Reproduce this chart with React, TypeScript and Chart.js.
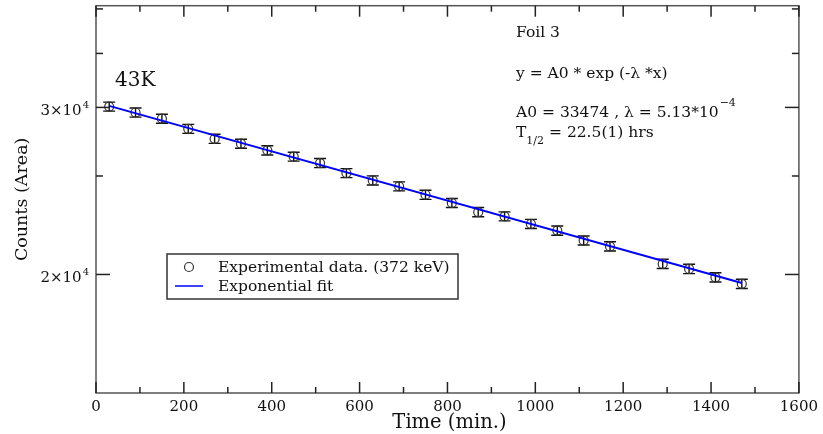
import React, { useEffect, useRef } from "react";
import { Chart, registerables } from "chart.js";

Chart.register(...registerables);

// ---- data ----
const timeMin = [30, 90, 150, 210, 270, 330, 390, 450, 510, 570, 630, 690, 750, 810, 870, 930, 990, 1050, 1110, 1170, 1290, 1350, 1410, 1470];
const counts = [30060, 29630, 29190, 28480, 27800, 27470, 27030, 26620, 26210, 25580, 25130, 24770, 24270, 23790, 23270, 23030, 22610, 22250, 21720, 21410, 20520, 20270, 19860, 19550];
const countErrors = [330, 330, 320, 310, 310, 300, 300, 290, 290, 280, 280, 270, 270, 260, 260, 250, 250, 250, 240, 240, 230, 230, 220, 220];
const fitX = [30, 1470];
const fitY = [30110, 19590];

const xMajorTicks = [0, 200, 400, 600, 800, 1000, 1200, 1400, 1600];
const xMinorTicks = [100, 300, 500, 700, 900, 1100, 1300, 1500];
const yMajorTicks = [20000, 30000];
const yMajorMantissa = ["2×10", "3×10"];
const yMajorExponent = ["4", "4"];
const yMinorTicks = [25400, 34200, 38100];

const seriesLabels = ["Experimental data. (372 keV)", "Exponential fit"];
const annotation = {
  isotope: "43K",
  foil: "Foil 3",
  formula: "y = A0 * exp (-λ *x)",
  params: "A0 = 33474 , λ = 5.13*10",
  paramsExp: "−4",
  halfLifeT: "T",
  halfLifeSub: "1/2",
  halfLifeVal: " = 22.5(1) hrs",
};
const xTitle = "Time (min.)";
const yTitle = "Counts (Area)";

const SERIF = "'DejaVu Serif', serif";

const decor = {
  id: "decor",
  beforeDatasetsDraw(chart: any) {
    const { ctx, scales } = chart;
    const x = scales.x, y = scales.y;
    ctx.save();
    ctx.strokeStyle = "#111";
    ctx.lineWidth = 1.4;
    timeMin.forEach((t, i) => {
      const px = x.getPixelForValue(t);
      const y1 = y.getPixelForValue(counts[i] + countErrors[i]);
      const y2 = y.getPixelForValue(counts[i] - countErrors[i]);
      ctx.beginPath();
      ctx.moveTo(px, y1);
      ctx.lineTo(px, y2);
      ctx.moveTo(px - 6, y1);
      ctx.lineTo(px + 6, y1);
      ctx.moveTo(px - 6, y2);
      ctx.lineTo(px + 6, y2);
      ctx.stroke();
    });
    ctx.restore();
  },
  afterDraw(chart: any) {
    const { ctx, chartArea, scales } = chart;
    const { left, right, top, bottom } = chartArea;
    const x = scales.x, y = scales.y;
    ctx.save();
    // frame
    ctx.strokeStyle = "#555";
    ctx.lineWidth = 1.5;
    ctx.strokeRect(left, top, right - left, bottom - top);
    // ticks (inward)
    ctx.strokeStyle = "#222";
    ctx.lineWidth = 1.5;
    const tick = (x1: number, y1: number, x2: number, y2: number) => {
      ctx.beginPath();
      ctx.moveTo(x1, y1);
      ctx.lineTo(x2, y2);
      ctx.stroke();
    };
    xMajorTicks.forEach((v) => {
      const p = x.getPixelForValue(v);
      tick(p, bottom, p, bottom - 11);
      tick(p, top, p, top + 11);
    });
    xMinorTicks.forEach((v) => {
      const p = x.getPixelForValue(v);
      tick(p, bottom, p, bottom - 6);
      tick(p, top, p, top + 6);
    });
    yMajorTicks.forEach((v) => {
      const p = y.getPixelForValue(v);
      tick(left, p, left + 14, p);
      tick(right, p, right - 14, p);
    });
    yMinorTicks.forEach((v) => {
      const p = y.getPixelForValue(v);
      tick(left, p, left + 7, p);
      tick(right, p, right - 7, p);
    });
    // y tick labels with superscript
    ctx.fillStyle = "#111";
    ctx.textAlign = "left";
    ctx.textBaseline = "alphabetic";
    yMajorTicks.forEach((v, i) => {
      const p = y.getPixelForValue(v);
      ctx.font = `10px ${SERIF}`;
      const supW = ctx.measureText(yMajorExponent[i]).width;
      ctx.font = `15px ${SERIF}`;
      const mainW = ctx.measureText(yMajorMantissa[i]).width;
      const end = left - 7;
      const supX = end - supW;
      ctx.fillText(yMajorMantissa[i], supX - 1 - mainW, p + 8);
      ctx.font = `10px ${SERIF}`;
      ctx.fillText(yMajorExponent[i], supX, p + 1);
    });
    // axis titles
    ctx.font = `19.5px ${SERIF}`;
    ctx.textAlign = "center";
    ctx.textBaseline = "middle";
    ctx.fillText(xTitle, (left + right) / 2 + 2, 423);
    ctx.font = `17.5px ${SERIF}`;
    ctx.save();
    ctx.translate(22, (top + bottom) / 2);
    ctx.rotate(-Math.PI / 2);
    ctx.fillText(yTitle, 0, 0);
    ctx.restore();
    // annotations
    ctx.textAlign = "left";
    ctx.textBaseline = "alphabetic";
    ctx.font = `20px ${SERIF}`;
    ctx.fillText(annotation.isotope, 115, 86);
    ctx.font = `15.5px ${SERIF}`;
    ctx.fillText(annotation.foil, 516, 37);
    ctx.fillText(annotation.formula, 516, 78);
    ctx.fillText(annotation.params, 516, 117);
    const pw = ctx.measureText(annotation.params).width;
    ctx.font = `11px ${SERIF}`;
    ctx.fillText(annotation.paramsExp, 516 + pw + 1, 106);
    ctx.font = `15.5px ${SERIF}`;
    ctx.fillText(annotation.halfLifeT, 516, 137);
    const tw = ctx.measureText(annotation.halfLifeT).width;
    ctx.font = `11px ${SERIF}`;
    ctx.fillText(annotation.halfLifeSub, 516 + tw, 144);
    const sw = ctx.measureText(annotation.halfLifeSub).width;
    ctx.font = `15.5px ${SERIF}`;
    ctx.fillText(annotation.halfLifeVal, 516 + tw + sw, 137);
    // legend
    ctx.fillStyle = "#fff";
    ctx.fillRect(167, 254, 291, 45);
    ctx.strokeStyle = "#333";
    ctx.lineWidth = 1.5;
    ctx.strokeRect(167, 254, 291, 45);
    ctx.strokeStyle = "#333";
    ctx.lineWidth = 1.2;
    ctx.beginPath();
    ctx.arc(189, 267, 4.5, 0, Math.PI * 2);
    ctx.stroke();
    ctx.strokeStyle = "#0000ff";
    ctx.lineWidth = 1.5;
    tick(175, 286, 203, 286);
    ctx.fillStyle = "#111";
    ctx.font = `15.5px ${SERIF}`;
    ctx.fillText(seriesLabels[0], 218, 271.5);
    ctx.fillText(seriesLabels[1], 218, 290.5);
    ctx.restore();
  },
};

export default function App() {
  const ref = useRef<HTMLCanvasElement | null>(null);
  useEffect(() => {
    const canvas = ref.current;
    if (!canvas) return;
    const chart = new Chart(canvas, {
      type: "scatter",
      data: {
        datasets: [
          {
            type: "line",
            label: seriesLabels[1],
            data: fitX.map((v, i) => ({ x: v, y: fitY[i] })),
            borderColor: "#0000ff",
            borderWidth: 2,
            pointRadius: 0,
            fill: false,
            order: 0,
          } as any,
          {
            type: "scatter",
            label: seriesLabels[0],
            data: timeMin.map((v, i) => ({ x: v, y: counts[i] })),
            pointStyle: "circle",
            pointRadius: 4.5,
            borderColor: "#333",
            borderWidth: 1.2,
            backgroundColor: "rgba(0,0,0,0)",
            order: 1,
          },
        ],
      },
      options: {
        responsive: false,
        animation: false,
        devicePixelRatio: 1,
        layout: { padding: { top: 4, right: 21, left: 0, bottom: 0 } },
        plugins: { legend: { display: false }, tooltip: { enabled: false } },
        events: [],
        scales: {
          x: {
            type: "linear",
            min: 0,
            max: 1600,
            grid: { display: false, drawTicks: false },
            border: { display: false },
            afterBuildTicks: (s: any) => {
              s.ticks = xMajorTicks.map((v) => ({ value: v }));
            },
            ticks: {
              autoSkip: false,
              maxRotation: 0,
              padding: 5,
              color: "#111",
              font: { family: SERIF, size: 15 },
              callback: (v: any) => String(v),
            },
            afterFit: (s: any) => {
              s.height = 41;
            },
          },
          y: {
            type: "logarithmic",
            min: 15000,
            max: 38400,
            grid: { display: false, drawTicks: false },
            border: { display: false },
            ticks: { display: false },
            afterFit: (s: any) => {
              s.width = 96;
            },
          },
        },
      },
      plugins: [decor],
    });
    return () => chart.destroy();
  }, []);
  return (
    <div style={{ position: "fixed", left: 0, top: 0, width: 823, height: 434, background: "#fff" }}>
      <canvas ref={ref} width={823} height={434} />
    </div>
  );
}
